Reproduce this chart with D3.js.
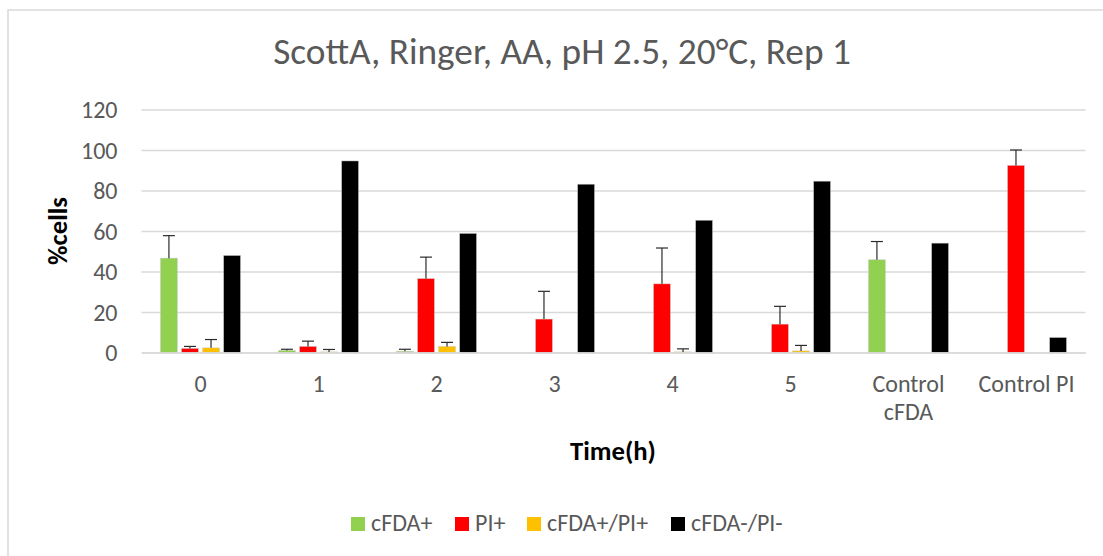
<!DOCTYPE html>
<html>
<head>
<meta charset="utf-8">
<script src="https://cdn.jsdelivr.net/npm/d3@7"></script>
<style>
  html, body { margin: 0; padding: 0; background: #fff; overflow: hidden; }
  svg { display: block; font-family: Carlito, Lato, "Liberation Sans", sans-serif; }
</style>
</head>
<body>
<svg id="chart" width="1103" height="556"></svg>
<script>
// Time points / controls along the x axis
const categories = ["0", "1", "2", "3", "4", "5", "Control cFDA", "Control PI"];
const seriesNames = ["cFDA+", "PI+", "cFDA+/PI+", "cFDA-/PI-"];
const seriesColors = ["#92d050", "#ff0000", "#ffc000", "#000000"];

// Mean % of cells per staining population
const cfdaPos   = [46.6, 1.0, 0.6, 0, 0, 0, 45.8, 0];
const piPos     = [2.0, 3.0, 36.5, 16.5, 33.9, 14.0, 0, 92.4];
const doublePos = [2.3, 0.3, 3.0, 0, 0.3, 0.8, 0, 0];
const doubleNeg = [47.9, 94.6, 58.8, 83.1, 65.3, 84.6, 54.0, 7.4];

// Upper error (standard deviation) per population
const cfdaErr   = [11.1, 0.6, 1.0, null, null, null, 9.0, null];
const piErr     = [1.0, 2.6, 10.6, 13.7, 17.7, 8.8, null, 7.6];
const doubleErr = [4.1, 1.2, 2.0, null, 1.5, 2.7, null, null];
const negErr    = [null, null, null, null, null, null, null, null];

const yTicks = [0, 20, 40, 60, 80, 100, 120];

const values = [cfdaPos, piPos, doublePos, doubleNeg];
const errors = [cfdaErr, piErr, doubleErr, negErr];

const FONT = "Carlito, Lato, 'Liberation Sans', sans-serif";
const svg = d3.select("#chart");

// chart area frame (runs off the right and bottom edges)
svg.append("rect").attr("x", 8).attr("y", 10).attr("width", 1120).attr("height", 580)
  .attr("fill", "#fff").attr("stroke", "#d9d9d9").attr("stroke-width", 1.5);

const plotLeft = 141.5, plotRight = 1085.5;
const x0 = d3.scaleBand().domain(categories).range([plotLeft, plotRight]).padding(0);
const groupW = 80;
const x1 = d3.scaleBand().domain(seriesNames)
  .range([(x0.bandwidth() - groupW) / 2, (x0.bandwidth() + groupW) / 2])
  .paddingInner(0.2).paddingOuter(0);
const y = d3.scaleLinear().domain([0, 120]).range([352.5, 109.5]);

// title
svg.append("text").attr("x", 562).attr("y", 64).attr("text-anchor", "middle")
  .attr("font-size", 37.3).attr("fill", "#595959")
  .text("ScottA, Ringer, AA, pH 2.5, 20°C, Rep 1");

// horizontal gridlines + y tick labels
const yAxis = d3.axisLeft(y).tickValues(yTicks).tickSize(-(plotRight - plotLeft)).tickPadding(24);
const gy = svg.append("g").attr("transform", `translate(${plotLeft},0)`).call(yAxis);
gy.select(".domain").remove();
gy.selectAll(".tick line").attr("stroke", "#d9d9d9").attr("stroke-width", 1.5);
gy.selectAll(".tick text").attr("font-size", 24).attr("fill", "#595959")
  .attr("font-family", FONT).attr("dy", "0.34em");

// bars
const groups = svg.append("g").selectAll("g").data(categories).join("g")
  .attr("transform", d => `translate(${x0(d)},0)`);

seriesNames.forEach((s, si) => {
  groups.append("rect")
    .attr("x", x1(s))
    .attr("width", x1.bandwidth())
    .attr("y", (d, i) => y(values[si][i]))
    .attr("height", (d, i) => y(0) - y(values[si][i]))
    .attr("fill", seriesColors[si])
    .attr("stroke", "#c8c8c8").attr("stroke-width", 0.6).attr("stroke-opacity", 0.8);
});

// error bars (upper only)
seriesNames.forEach((s, si) => {
  groups.each(function (d, i) {
    const e = errors[si][i];
    if (e == null) return;
    const cx = x1(s) + x1.bandwidth() / 2;
    const top = y(values[si][i] + e), base = y(values[si][i]);
    const g = d3.select(this);
    g.append("line").attr("x1", cx).attr("x2", cx).attr("y1", base).attr("y2", top)
      .attr("stroke", "#2b2b2b").attr("stroke-width", 1.2);
    g.append("line").attr("x1", cx - 6).attr("x2", cx + 6).attr("y1", top).attr("y2", top)
      .attr("stroke", "#2b2b2b").attr("stroke-width", 1.2);
  });
});

// x axis labels (wrapped)
const xAxis = d3.axisBottom(x0).tickSize(0).tickPadding(0);
const gx = svg.append("g").attr("transform", `translate(0,${y(0)})`).call(xAxis);
gx.select(".domain").attr("stroke", "#d9d9d9").attr("stroke-width", 1.5);
gx.selectAll(".tick text").each(function (d) {
  const t = d3.select(this);
  t.text(null).attr("font-size", 24).attr("fill", "#595959").attr("font-family", FONT)
    .attr("dy", null);
  const words = d === "Control PI" ? [d] : d.split(" ");
  words.forEach((w, k) => {
    t.append("tspan").attr("x", 0).attr("y", 39 + k * 28.5).text(w);
  });
});

// axis titles
svg.append("text").attr("transform", "translate(67,231) rotate(-90)")
  .attr("text-anchor", "middle").attr("font-size", 26.7).attr("font-weight", "bold")
  .attr("fill", "#000").text("%cells");
svg.append("text").attr("x", 613).attr("y", 460).attr("text-anchor", "middle")
  .attr("font-size", 26.7).attr("font-weight", "bold").attr("fill", "#000").text("Time(h)");

// legend
const legendX = [351, 455, 527, 671];
const lg = svg.append("g").selectAll("g").data(seriesNames).join("g")
  .attr("transform", (d, i) => `translate(${legendX[i]},517)`);
lg.append("rect").attr("width", 14).attr("height", 14).attr("fill", (d, i) => seriesColors[i]);
lg.append("text").attr("x", 20).attr("y", 14).attr("font-size", 24).attr("fill", "#595959")
  .text(d => d);
</script>
</body>
</html>
